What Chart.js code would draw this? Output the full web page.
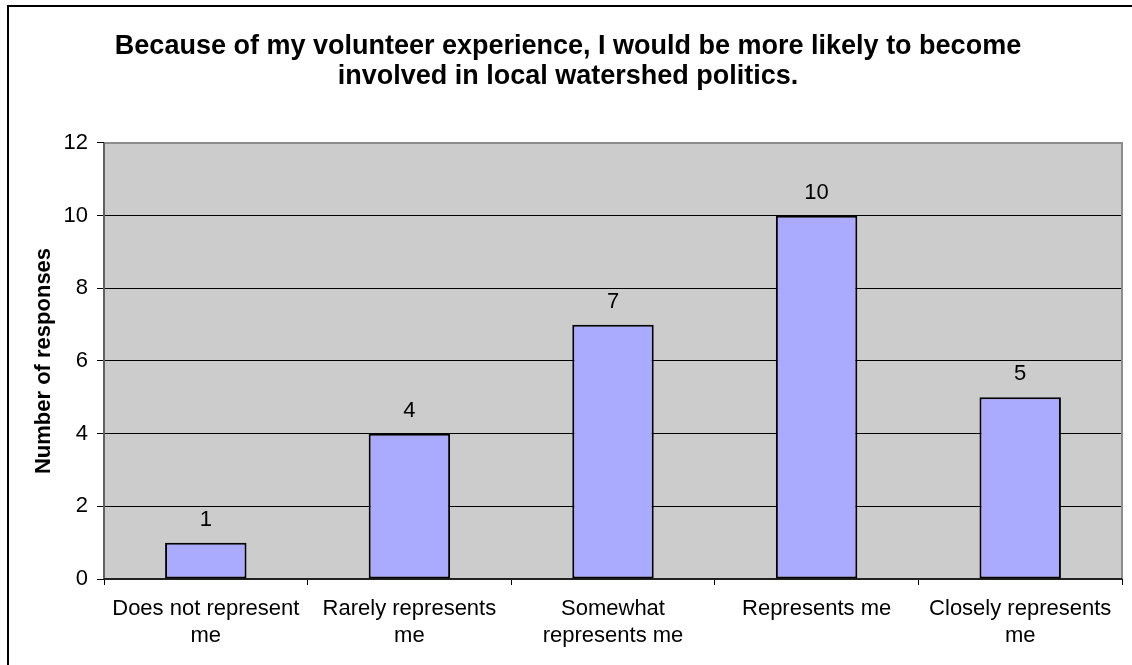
<!DOCTYPE html>
<html>
<head>
<meta charset="utf-8">
<script src="https://cdn.jsdelivr.net/npm/chart.js@4"></script>
<style>
  html, body { margin: 0; padding: 0; background: #fff; }
  #wrap { width: 1132px; height: 665px; }
</style>
</head>
<body>
<div id="wrap"><canvas id="chart" width="1132" height="665"></canvas></div>
<script>
const categories = [
    ['Does not represent', 'me'],
    ['Rarely represents', 'me'],
    ['Somewhat', 'represents me'],
    'Represents me',
    ['Closely represents', 'me']
];
const responses = [1, 4, 7, 10, 5];
const yTicks = [0, 2, 4, 6, 8, 10, 12];

const chartTitle = [
    'Because of my volunteer experience, I would be more likely to become',
    'involved in local watershed politics.'
];

const FONT = '"Liberation Sans", Arial, sans-serif';

// gray plot area + outer frame
const frame = {
    id: 'frame',
    beforeDraw(chart) {
        const c = chart.ctx, a = chart.chartArea;
        c.save();
        c.fillStyle = '#fff';
        c.fillRect(0, 0, chart.width, chart.height);
        c.strokeStyle = '#000';
        c.lineWidth = 2;
        c.strokeRect(8, 6, chart.width + 20, chart.height + 20);
        c.fillStyle = '#cccccc';
        c.fillRect(a.left, a.top, a.right - a.left, a.bottom - a.top);
        c.restore();
    },
    beforeDatasetsDraw(chart) {
        const c = chart.ctx, a = chart.chartArea;
        c.save();
        c.lineWidth = 2;
        c.strokeStyle = '#8c8c8c';
        c.beginPath();
        c.moveTo(a.left, a.top);
        c.lineTo(a.right, a.top);
        c.lineTo(a.right, a.bottom);
        c.stroke();
        c.strokeStyle = '#606060';
        c.beginPath();
        c.moveTo(a.left, a.top);
        c.lineTo(a.left, a.bottom);
        c.stroke();
        c.strokeStyle = '#222';
        c.beginPath();
        c.moveTo(a.left, a.bottom);
        c.lineTo(a.right, a.bottom);
        c.stroke();
        c.restore();
    },
    afterDatasetsDraw(chart) {
        const c = chart.ctx;
        const meta = chart.getDatasetMeta(0);
        c.save();
        c.font = '22px ' + FONT;
        c.fillStyle = '#000';
        c.textAlign = 'center';
        c.textBaseline = 'middle';
        meta.data.forEach((bar, i) => {
            c.fillText(String(responses[i]), bar.x, bar.y - 23);
        });
        c.restore();
    }
};

const ctx = document.getElementById('chart').getContext('2d');
const chart = new Chart(ctx, {
    type: 'bar',
    data: {
        labels: categories,
        datasets: [{
            data: responses,
            backgroundColor: '#aaaaff',
            borderColor: '#000',
            borderWidth: 2,
            borderSkipped: false,
            categoryPercentage: 1,
            barPercentage: 0.4
        }]
    },
    options: {
        responsive: false,
        animation: false,
        layout: { padding: { left: 14, right: 10, top: 0, bottom: 0 } },
        plugins: {
            legend: { display: false },
            tooltip: { enabled: false },
            title: {
                display: true,
                text: chartTitle,
                color: '#000',
                font: { family: FONT, size: 27, weight: 'bold', lineHeight: 1.12 },
                padding: { top: 31, bottom: 51.5 }
            }
        },
        scales: {
            x: {
                offset: true,
                grid: {
                    display: true,
                    offset: true,
                    drawOnChartArea: false,
                    drawTicks: true,
                    tickLength: 6,
                    color: '#000'
                },
                border: { display: false },
                ticks: {
                    color: '#000',
                    font: { family: FONT, size: 22, lineHeight: 1.2 },
                    padding: 11,
                    maxRotation: 0,
                    autoSkip: false
                },
                afterFit(scale) { scale.height = 665 - 579; }
            },
            y: {
                min: 0,
                max: 12,
                afterBuildTicks(scale) {
                    scale.ticks = yTicks.map(v => ({ value: v }));
                },
                grid: {
                    color: '#000',
                    lineWidth: 1,
                    tickLength: 7
                },
                border: { display: false },
                ticks: {
                    color: '#000',
                    font: { family: FONT, size: 22 },
                    padding: 9
                },
                title: {
                    display: true,
                    text: 'Number of responses',
                    color: '#000',
                    font: { family: FONT, size: 22, weight: 'bold', lineHeight: 1.2 },
                    padding: { top: 17, bottom: 0 }
                },
                afterFit(scale) { scale.width = 90; }
            }
        }
    },
    plugins: [frame]
});
</script>
</body>
</html>
